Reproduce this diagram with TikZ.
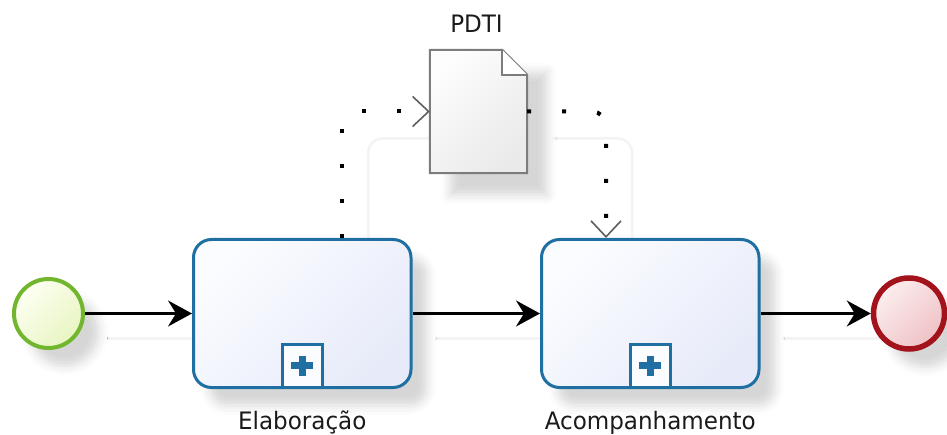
\documentclass[tikz,border=0pt]{standalone}
\usepackage{fontspec}
\setmainfont[FakeStretch=0.96]{DejaVu Sans}
\usetikzlibrary{arrows.meta,shadows.blur,backgrounds}

\definecolor{taskblue}{HTML}{1F6FA2}
\definecolor{taskhi}{HTML}{FBFCFF}
\definecolor{tasklo}{HTML}{E7EBF9}
\definecolor{startgreen}{HTML}{72B62E}
\definecolor{starthi}{HTML}{FDFFF2}
\definecolor{startlo}{HTML}{E8F5C2}
\definecolor{endred}{HTML}{A3131B}
\definecolor{endhi}{HTML}{FCEEEF}
\definecolor{endlo}{HTML}{EFC1C5}
\definecolor{docgray}{HTML}{7C7C7C}
\definecolor{tipgray}{HTML}{5E5E5E}
\definecolor{dochi}{HTML}{FDFDFD}
\definecolor{doclo}{HTML}{EAEAEA}
\definecolor{ghostgray}{HTML}{F3F3F3}
\definecolor{labeltext}{HTML}{1A1A1A}

\tikzset{
  softshadow/.style={blur shadow={shadow xshift=16pt, shadow yshift=-18pt,
      shadow blur radius=9pt, shadow opacity=16}},
  startevent/.style={circle, minimum size=69pt, inner sep=0pt, line width=4pt,
      draw=startgreen, top color=starthi, bottom color=startlo, shading angle=45, softshadow},
  endevent/.style={circle, minimum size=71pt, inner sep=0pt, line width=5.5pt,
      draw=endred, top color=endhi, bottom color=endlo, shading angle=45, softshadow},
  taskbox/.style={rectangle, rounded corners=18pt, minimum width=217.5pt,
      minimum height=148pt, inner sep=0pt, line width=3pt, draw=taskblue,
      top color=taskhi, bottom color=tasklo, shading angle=45, softshadow},
  submarker/.style={rectangle, minimum width=40pt, minimum height=43.5pt,
      inner sep=0pt, line width=3pt, draw=taskblue, fill=taskhi},
  plusbar/.style={draw=taskblue, line width=7pt},
  docbox/.style={rectangle, minimum width=97pt, minimum height=123pt, inner sep=0pt,
      blur shadow={shadow xshift=20pt, shadow yshift=-22pt, shadow blur radius=9pt,
      shadow opacity=16}},
  docline/.style={draw=docgray, line width=2pt, line join=miter},
  seqflow/.style={draw=black, line width=2.2pt,
      -{Stealth[length=24pt,width=26pt,inset=8pt]}},
  assoc/.style={draw=black, line width=4pt, dash pattern=on 4pt off 31pt,
      rounded corners=14pt,
      -{Straight Barb[length=16pt,width=30pt,line width=1.6pt,color=tipgray]}},
  ghost/.style={draw=ghostgray, line width=2.5pt, rounded corners=14pt},
  lbl/.style={inner sep=0pt, text=labeltext, font=\fontsize{24pt}{28pt}\selectfont},
}

\begin{document}
\begin{tikzpicture}[x=1pt, y=-1pt]
\useasboundingbox (0,0) rectangle (947,435);

% events and sub-process tasks
\node[startevent] (s) at (48.5,313.5) {};
\node[taskbox] (t1) at (302.25,313.5) {};
\node[taskbox] (t2) at (650.25,313.5) {};
\node[endevent] (e) at (909,313.5) {};

% collapsed sub-process markers
\node[submarker, anchor=south] (m1) at (t1.south) {};
\node[submarker, anchor=south] (m2) at (t2.south) {};
\foreach \m in {m1,m2}{
  \draw[plusbar] ([xshift=-11pt]\m.center) -- ([xshift=11pt]\m.center);
  \draw[plusbar] ([yshift=10pt]\m.center) -- ([yshift=-10pt]\m.center);
}

% data object with folded corner
\node[docbox] (d) at (478.5,111.5) {};
\draw[docline, top color=dochi, bottom color=doclo, shading angle=45]
  (d.south west) -- (d.north west) -- ([xshift=-25pt]d.north east)
  -- ([yshift=-25pt]d.north east) -- (d.south east) -- cycle;
\draw[docline, fill=white] ([xshift=-25pt]d.north east)
  -- ([xshift=-25pt,yshift=-25pt]d.north east) -- ([yshift=-25pt]d.north east);

% labels
\node[lbl, anchor=base] (l1) at ([yshift=-40.5pt]t1.south) {Elaboração};
\node[lbl, anchor=base] (l2) at ([yshift=-40.5pt]t2.south) {Acompanhamento};
\node[lbl, anchor=base] (ld) at ([xshift=-2pt,yshift=17pt]d.north) {PDTI};

% faint connector shadows
\begin{scope}[on background layer]
  \draw[ghost] ([shift={(22,25)}]s.east) -- ([shift={(22,25)}]t1.west);
  \draw[ghost] ([shift={(22,25)}]t1.east) -- ([shift={(22,25)}]t2.west);
  \draw[ghost] ([shift={(22,25)}]t2.east) -- ([shift={(22,25)}]e.west);
  \draw[ghost] ([shift={(66,27)}]t1.north) |- ([shift={(26,27)}]d.west);
  \draw[ghost] ([shift={(26,27)}]d.east) -| ([shift={(-18.25,27)}]t2.north);
\end{scope}

% sequence flows
\draw[seqflow] (s) -- (t1);
\draw[seqflow] (t1) -- (t2);
\draw[seqflow] (t2) -- (e);

% data associations
\draw[assoc] ([xshift=40pt]t1.north) |- (d.west);
\draw[assoc] (d.east) -| ([xshift=-44.25pt]t2.north);
\end{tikzpicture}
\end{document}
